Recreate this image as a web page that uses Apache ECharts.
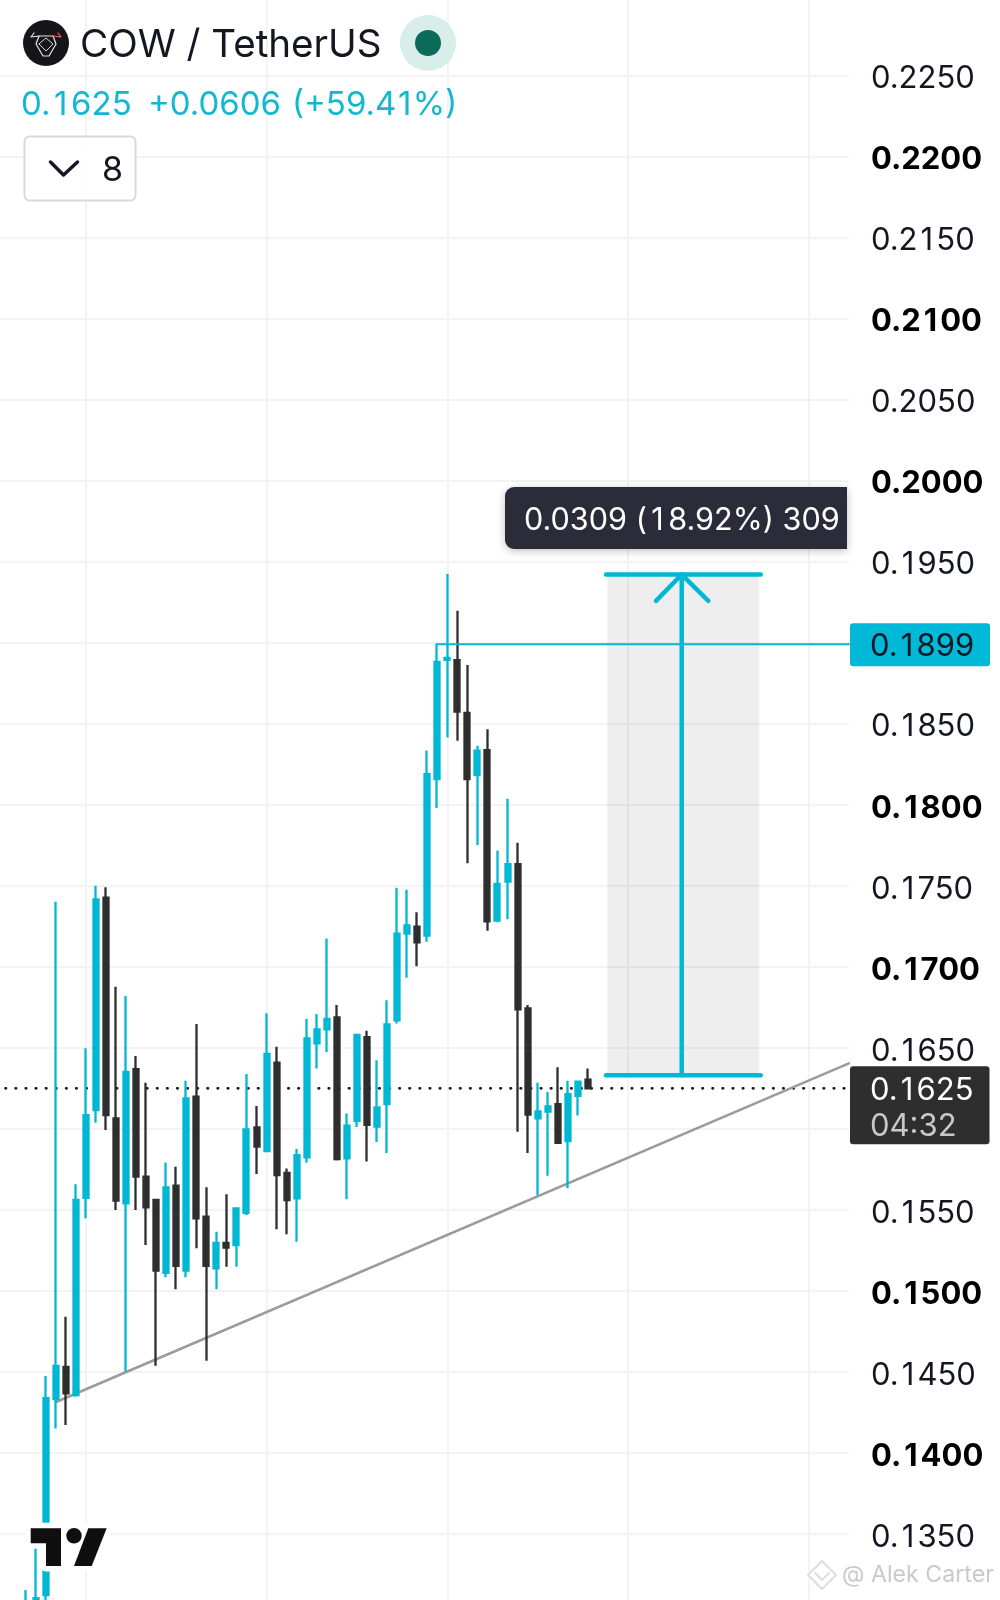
<!DOCTYPE html>
<html>
<head>
<meta charset="utf-8">
<style>html,body{margin:0;padding:0;background:#fff}#c{width:1000px;height:1600px}</style>
<script src="https://cdn.jsdelivr.net/npm/echarts@6/dist/echarts.min.js"></script>
</head>
<body>
<div id="c"></div>
<script>
// ---------- data ----------
const firstBar = 3;
const barCount = 86;
const opens = [.1301,.13031,.13124,.14333,.14532,.14358,.15575,.16116,.17426,.16065,.1554,.16369,.15705,.15561,.15112,.15649,.15125,.16198,.15458,.15139,.15297,.15283,.15482,.16009,.15863,.16408,.15729,.15571,.15824,.16528,.16614,.16688,.15818,.1605,.16566,.16014,.16153,.1667,.17204,.17248,.17192,.18158,.18893,.18892,.18566,.18183,.18337,.17285,.17525,.17633,.16743,.16065,.16107,.16153,.15924,.16204,.16304];
const closes = [.1302,.13105,.14339,.14538,.14368,.15561,.16085,.17416,.16085,.15557,.16352,.15705,.15516,.15125,.15639,.15155,.16188,.15448,.15155,.15297,.15267,.1551,.15997,.1589,.16462,.15715,.15561,.15838,.16558,.16614,.16678,.15813,.1602,.16579,.16025,.16133,.16645,.17204,.17255,.1715,.18188,.18881,.18905,.18574,.18158,.18334,.1728,.17512,.17633,.16738,.16088,.16107,.16138,.15914,.16214,.16292,.1625];
const lows = [.1300,.1300,.13093,.14152,.14173,.14347,.15448,.16038,.15993,.15499,.14501,.15499,.15283,.14538,.15084,.1501,.15084,.15263,.14569,.1501,.15149,.15149,.15468,.15721,.15857,.1538,.15349,.15304,.15791,.16373,.16474,.15805,.15566,.16012,.15798,.15919,.15851,.1665,.16932,.17003,.17154,.17979,.18415,.18395,.17638,.17752,.17222,.17275,.17293,.15982,.15851,.15591,.1571,.15914,.15634,.16083,.16246];
const highs = [.13155,.13414,.14475,.17401,.14841,.15658,.16497,.1750,.1749,.16877,.16819,.16449,.16285,.15561,.15793,.15766,.16297,.16647,.15639,.15365,.15596,.15516,.16338,.16141,.16713,.16507,.15756,.15875,.16678,.16708,.17174,.16764,.16095,.16579,.16605,.16423,.16794,.17487,.17475,.17336,.18334,.18995,.19424,.19197,.18862,.18364,.18466,.17717,.18037,.17765,.16764,.16285,.16227,.1638,.16297,.16297,.16373];

const tickLabels = ['0.2250','0.2200','0.2150','0.2100','0.2050','0.2000','0.1950','0.1850','0.1800','0.1750','0.1700','0.1650','0.1550','0.1500','0.1450','0.1400','0.1350'];
const boldLabels = ['0.2200','0.2100','0.2000','0.1800','0.1700','0.1500','0.1400'];

const lastPrice = 0.1625, lastPriceText = '0.1625', countdown = '04:32';
const levelPrice = 0.1899, levelText = '0.1899', levelStart = 44;
const measureTop = 0.1942, measureBottom = 0.1633, measureWing = 0.19258;
const measureLeft = 60.81, measureRight = 76.22, measureMid = 68.35, wingLeft = 65.79, wingRight = 71.0;
const boxLeft = 60.94, boxRight = 76.08;
const trendX = [6.1, 85], trendY = [0.14316, 0.16404];
const title = 'COW / TetherUS', quotePrice = '0.1625', quoteChange = '+0.0606', quotePct = '(+59.41%)';
const measureText = '0.0309 (18.92%) 309', collapsed = '8', credit = '@ Alek Carter';

// ---------- styles ----------
const TEAL = '#00b8d4', DARK = '#2e2e2e', GRID = '#f3f3f3', INK = '#131722';
const FONT = 'Inter, "Noto Sans", sans-serif';

const categories = Array.from({length: barCount}, (_, i) => String(i));
const candles = opens.map((o, i) => [i + firstBar, o, closes[i], lows[i], highs[i]]);

function seg(name, xs, ys, color, width, z, extra) {
  return Object.assign({
    name, type: 'line', xAxisIndex: 1, yAxisIndex: 0, silent: true, showSymbol: false, symbol: 'none', z,
    animation: false, data: xs.map((x, i) => [x, ys[i]]),
    lineStyle: {color, width, cap: 'round', join: 'round'}
  }, extra || {});
}
// the reference font has tabular digits: give the narrow Inter "1" the missing side room
const tabular = (s, n, o) => ('{' + n + '|' + s.split('1').join('}{' + o + '|1}{' + n + '|') + '}').split('{' + n + '|}').join('');

const chart = echarts.init(document.getElementById('c'), null, {renderer: 'canvas'});
const option = {
  animation: false,
  backgroundColor: '#ffffff',
  grid: {left: -4.54, right: 151.1, top: -5.7, bottom: -15.1, containLabel: false, outerBoundsMode: 'none'},
  xAxis: [
    {type: 'category', data: categories, boundaryGap: false, gridIndex: 0,
     axisLine: {show: false}, axisTick: {show: false}, axisLabel: {show: false},
     splitLine: {show: true, interval: (i) => (i - 9) % 18 === 0, lineStyle: {color: GRID, width: 2}}},
    {type: 'value', min: 0, max: 85, gridIndex: 0, show: false}
  ],
  yAxis: [{
    type: 'value', position: 'right', min: 0.13, max: 0.23, interval: 0.005, scale: true,
    axisLine: {show: false}, axisTick: {show: false},
    splitLine: {show: true, lineStyle: {color: GRID, width: 2}},
    axisLabel: {
      show: true, inside: false, margin: 22, align: 'left', padding: [7, 0, 0, 0],
      formatter: (v) => {
        const s = v.toFixed(4);
        if (tickLabels.indexOf(s) < 0) return '';
        return boldLabels.indexOf(s) >= 0 ? tabular(s, 'b', 'bo') : tabular(s, 'n', 'no');
      },
      rich: {
        n: {fontFamily: FONT, fontSize: 31, color: INK, fontWeight: 400},
        no: {fontFamily: FONT, fontSize: 31, color: INK, fontWeight: 400, padding: [0, 3.1, 0, 3.1]},
        b: {fontFamily: FONT, fontSize: 31, color: '#000', fontWeight: 700},
        bo: {fontFamily: FONT, fontSize: 31, color: '#000', fontWeight: 700, padding: [0, 3, 0, 3]}
      }
    }
  }],
  series: [
    seg('measure box', [boxLeft, boxRight], [measureTop, measureTop], 'transparent', 0, 1, {
      markArea: {silent: true, itemStyle: {color: 'rgba(0,0,0,0.065)'},
        data: [[{coord: [boxLeft, measureTop]}, {coord: [boxRight, measureBottom]}]]}
    }),
    seg('last price', [0, 85], [lastPrice, lastPrice], '#1a1a1a', 2.8, 2, {lineStyle: {color: '#1a1a1a', width: 2.8, type: [0.4, 9.7], cap: 'round'}}),
    seg('trend line', trendX, trendY, '#9b9b9b', 2.6, 2),
    {
      name: 'COW/USDT', type: 'candlestick', xAxisIndex: 0, yAxisIndex: 0, z: 3, silent: true,
      barWidth: 5.5, encode: {x: 0, y: [1, 2, 3, 4]}, data: candles,
      itemStyle: {color: TEAL, color0: DARK, borderColor: TEAL, borderColor0: DARK, borderWidth: 2.3}
    },
    seg('level', [levelStart, 85], [levelPrice, levelPrice], TEAL, 2.2, 5),
    seg('measure top', [measureLeft, measureRight], [measureTop, measureTop], TEAL, 4.5, 6),
    seg('measure bottom', [measureLeft, measureRight], [measureBottom, measureBottom], TEAL, 4.5, 6),
    seg('measure shaft', [measureMid, measureMid], [measureBottom, measureTop], TEAL, 4.5, 6),
    seg('measure head', [wingLeft, measureMid, wingRight], [measureWing, measureTop, measureWing], TEAL, 4.5, 6)
  ]
};
chart.setOption(option);

const yLevel = chart.convertToPixel({yAxisIndex: 0}, levelPrice);
const yLast = chart.convertToPixel({yAxisIndex: 0}, lastPrice);
const T = (text, x, y, size, fill, weight, align) => ({type: 'text', z: 100, silent: true,
  style: {text, x, y, fill, font: `${weight || 400} ${size}px ${FONT}`, align: align || 'left', verticalAlign: 'middle'}});
const N = (text, x, y, size, fill, pad) => ({type: 'text', z: 100, silent: true,
  style: {text: tabular(text, 'a', 'o'), x, y, align: 'left', verticalAlign: 'middle', rich: {
    a: {fontFamily: FONT, fontSize: size, fill, fontWeight: 400},
    o: {fontFamily: FONT, fontSize: size, fill, fontWeight: 400, padding: [0, pad, 0, pad]}
  }}});
const P = (points, stroke, lineWidth, fill) => ({type: fill ? 'polygon' : 'polyline', z: 100, silent: true,
  shape: {points}, style: {stroke: stroke || null, lineWidth: lineWidth || 0, fill: fill || null, lineJoin: 'round', lineCap: 'round'}});
const C = (cx, cy, r, fill, stroke, lw) => ({type: 'circle', z: 100, silent: true, shape: {cx, cy, r}, style: {fill, stroke: stroke || null, lineWidth: lw || 0}});
const R = (x, y, width, height, r, fill, stroke, lw, extra) => ({type: 'rect', z: 100, silent: true, shape: {x, y, width, height, r},
  style: Object.assign({fill, stroke: stroke || null, lineWidth: lw || 0}, extra || {})});

const tvT = [[30.7,1528.3],[61,1528.3],[61,1566],[46,1566],[46,1543.3],[30.7,1543.3]];
const tvS = [[88.3,1528.3],[106.7,1528.3],[91.7,1566],[74,1566]];

chart.setOption({graphic: {elements: [
  // header
  C(46, 43, 23, '#15151a'),
  P([[39,36],[53,36],[56,44],[49,56],[43,56],[36,44],[39,36]], '#e8e8e8', 1.2),
  P([[39,44],[46,51],[53,44],[46,38],[39,44]], '#d8d8d8', 1),
  P([[39,36],[31,37],[34,33]], '#e8e8e8', 1.2),
  P([[53,36],[61,37],[58,33]], '#ef6b6b', 1.2),
  T(title, 80, 45, 38.6, '#131722'),
  C(428, 43, 28, '#d8eeeb'),
  C(428, 43, 13, '#0a6b59'),
  N(quotePrice, 21, 105, 33, '#12b8cf', 3.6),
  N(quoteChange, 148, 105, 33, '#12b8cf', 3.6),
  N(quotePct, 292, 105, 33, '#12b8cf', 1.5),
  R(24.5, 136.5, 111, 64, 5, 'rgba(255,255,255,0.85)', '#d9d9d9', 2),
  P([[50.5,162],[63.5,175],[77.5,162]], '#131722', 3.5),
  T(collapsed, 102, 171, 34, '#131722'),
  // measure label
  R(505, 487, 342, 62, [9,0,0,9], '#2a2c3a', null, 0, {shadowBlur: 8, shadowColor: 'rgba(0,0,0,0.25)', shadowOffsetY: 2}),
  N(measureText, 524, 520.5, 30.6, '#fff', 4.5),
  // price tags
  R(850, yLevel - 21, 140, 43, 3, '#00b8d8'),
  N(levelText, 870, yLevel + 2, 31, INK, 3.1),
  R(850, yLast - 22, 139.5, 78, 3, '#2e2e2e'),
  N(lastPriceText, 870, yLast + 2, 31, '#fff', 3.1),
  T(countdown, 870, yLast + 38, 31, '#c8c8c8'),
  // logo
  P(tvT, '#fff', 11, '#fff'),
  P(tvS, '#fff', 11, '#fff'),
  C(74, 1535.7, 8, '#fff', '#fff', 11),
  P(tvT, null, 0, '#0f0f0f'),
  P(tvS, null, 0, '#0f0f0f'),
  C(74, 1535.7, 7.7, '#0f0f0f'),
  // watermark
  P([[822,1561],[836,1575],[822,1589],[808,1575],[822,1561]], '#dedede', 2),
  P([[815,1573],[822,1580],[829,1573]], '#dedede', 2),
  T(credit, 842, 1575, 23.2, '#c9c9c9')
]}});
</script>
</body>
</html>
